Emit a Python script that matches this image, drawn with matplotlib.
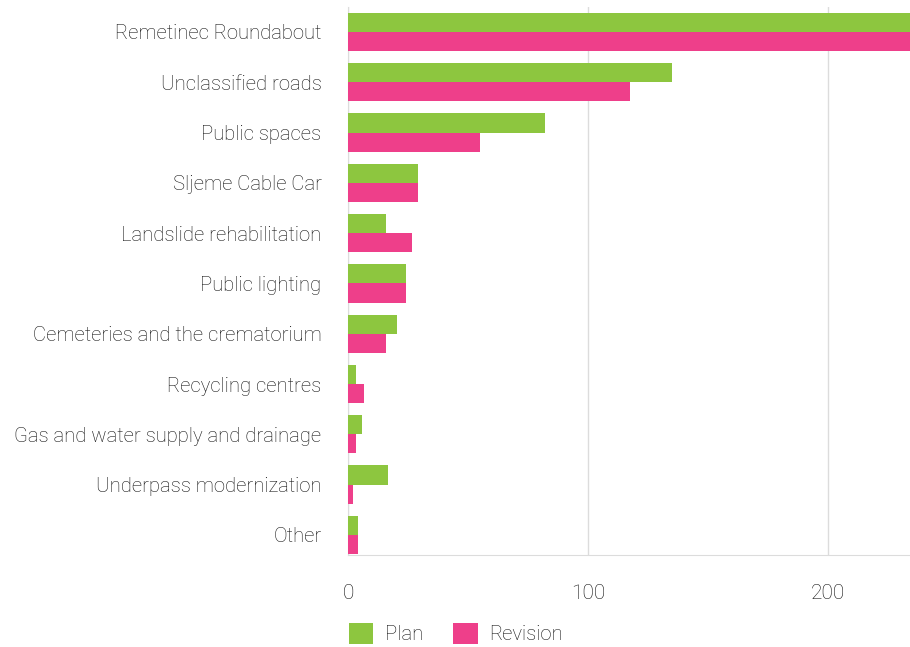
import matplotlib.pyplot as plt
import numpy as np

plt.rcParams['font.family'] = ['Roboto', 'DejaVu Sans']

categories = ['Remetinec Roundabout', 'Unclassified roads', 'Public spaces',
              'Sljeme Cable Car', 'Landslide rehabilitation', 'Public lighting',
              'Cemeteries and the crematorium', 'Recycling centres',
              'Gas and water supply and drainage', 'Underpass modernization', 'Other']
plan = [250, 134.7, 82.1, 29.2, 15.8, 24.2, 20.4, 3.3, 5.8, 16.7, 4.2]
revision = [250, 117.6, 55.0, 29.2, 26.7, 24.2, 15.8, 6.7, 3.3, 2.1, 4.2]
ticks = [0, 100, 200]

green = '#8dc63f'
pink = '#ee3f8a'
grid = '#dcdcdc'
txt = '#111111'

fig = plt.figure(figsize=(9.1, 6.47), dpi=100)
ax = fig.add_axes([348 / 910, 1 - 555 / 647, 562 / 910, 548 / 647])

y = np.arange(len(categories))
h = 0.38
ax.barh(y - h / 2, plan, height=h, color=green, label='Plan', zorder=3)
ax.barh(y + h / 2, revision, height=h, color=pink, label='Revision', zorder=3)

ax.set_xlim(0, 234)
ax.set_ylim(10.4, -0.497)
ax.set_yticks(y)
ax.set_yticklabels(categories, fontsize=14.6, fontweight='light', color=txt)
ax.set_xticks(ticks)
ax.set_xticklabels([str(t) for t in ticks], fontsize=15, fontweight='light', color=txt)
ax.tick_params(axis='y', length=0, pad=19)
ax.tick_params(axis='x', length=0, pad=21)
ax.grid(axis='x', color=grid, lw=1, zorder=0)
for s in ['top', 'right']:
    ax.spines[s].set_visible(False)
ax.spines['left'].set_color(grid)
ax.spines['bottom'].set_color(grid)

leg = fig.legend(loc='lower left', bbox_to_anchor=(341 / 910, -0.008), ncol=2,
                 frameon=False, fontsize=14.6, handlelength=1.2, handleheight=1.2,
                 handletextpad=0.55, columnspacing=1.5, borderaxespad=0)
for t in leg.get_texts():
    t.set_fontweight('light')
    t.set_color(txt)

fig.savefig('out.png', dpi=100)
